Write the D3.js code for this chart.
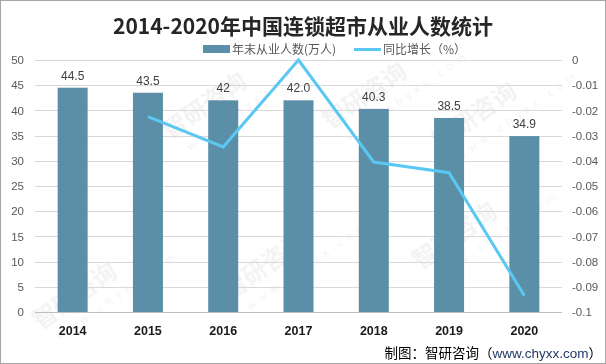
<!DOCTYPE html>
<html><head><meta charset="utf-8">
<script src="https://cdn.jsdelivr.net/npm/d3@7/dist/d3.min.js"></script>
<style>
html,body{margin:0;padding:0;background:#fff;}
svg{display:block;font-family:"Noto Sans CJK SC","Noto Sans",sans-serif;}
</style></head>
<body>
<svg id="chart" width="606" height="364"></svg>
<script>
const years = ["2014","2015","2016","2017","2018","2019","2020"];
const employees = [44.5, 43.5, 42, 42.0, 40.3, 38.5, 34.9];
const barLabels = ["44.5","43.5","42","42.0","40.3","38.5","34.9"];
const growthYears = ["2015","2016","2017","2018","2019","2020"];
const growth = [-0.0225, -0.0345, 0, -0.0405, -0.0447, -0.0935];
const leftTicks = [0,5,10,15,20,25,30,35,40,45,50];
const rightTicks = [0,-0.01,-0.02,-0.03,-0.04,-0.05,-0.06,-0.07,-0.08,-0.09,-0.1];

(function(){
const svg = d3.select("#chart");
const W = 606, H = 364;
const pL = 35, pR = 562, pT = 60, pB = 312;

svg.append("rect").attr("x",0.5).attr("y",0.5).attr("width",W-1).attr("height",H-1)
  .attr("fill","#fff").attr("stroke","#a6a6a6").attr("stroke-width",1);

const x = d3.scaleBand().domain(years).range([pL,pR]).padding(0);
const yL = d3.scaleLinear().domain([0,50]).range([pB,pT]);
const yR = d3.scaleLinear().domain([-0.1,0]).range([pB,pT]);

// faint watermarks
const wm = svg.append("g").attr("fill","#c8c8c8").attr("opacity",0.22);
[[40,330],[230,300],[420,270],[170,140],[330,130],[440,150]].forEach(([wx,wy])=>{
  const g = wm.append("g").attr("transform",`translate(${wx},${wy}) rotate(-35)`);
  g.append("text").attr("font-size",24).attr("font-weight","bold").text("智研咨询");
  g.append("text").attr("y",20).attr("x",10).attr("font-size",11).attr("letter-spacing",5).text("www.chyxx.com");
});

svg.append("g").selectAll("line").data(leftTicks).join("line")
  .attr("x1",pL).attr("x2",pR)
  .attr("y1",d=>Math.round(yL(d))+0.5).attr("y2",d=>Math.round(yL(d))+0.5)
  .attr("stroke",d=>d===0?"#bfbfbf":"#d9d9d9").attr("stroke-width",1);

const axL = d3.axisLeft(yL).tickValues(leftTicks).tickSize(0).tickPadding(0);
const gL = svg.append("g").attr("transform",`translate(24,0)`).call(axL);
gL.select(".domain").remove();
gL.selectAll("text").attr("fill","#595959").attr("font-size",11.5).attr("font-family","Liberation Sans, Noto Sans, sans-serif");

const axR = d3.axisRight(yR).tickValues(rightTicks).tickSize(0).tickPadding(0)
  .tickFormat(d=>d===0?"0":String(+d.toFixed(2)));
const gR = svg.append("g").attr("transform",`translate(572,0)`).call(axR);
gR.select(".domain").remove();
gR.selectAll("text").attr("fill","#595959").attr("font-size",11.5).attr("font-family","Liberation Sans, Noto Sans, sans-serif");

const bw = 30;
svg.append("g").selectAll("rect").data(years).join("rect")
  .attr("x",(d)=>x(d)+x.bandwidth()/2-bw/2)
  .attr("y",(d,i)=>yL(employees[i]))
  .attr("width",bw)
  .attr("height",(d,i)=>yL(0)-yL(employees[i]))
  .attr("fill","#5b8fa7");

svg.append("g").selectAll("text").data(years).join("text")
  .attr("x",d=>x(d)+x.bandwidth()/2)
  .attr("y",(d,i)=>yL(employees[i])-8)
  .attr("text-anchor","middle").attr("font-size",12).attr("fill","#404040")
  .attr("font-family","Liberation Sans, Noto Sans, sans-serif")
  .text((d,i)=>barLabels[i]);

const line = d3.line().x(d=>x(d[0])+x.bandwidth()/2).y(d=>yR(d[1]));
svg.append("path").datum(growthYears.map((y,i)=>[y,growth[i]]))
  .attr("d",line).attr("fill","none").attr("stroke","#5ac8f2").attr("stroke-width",3)
  .attr("stroke-linejoin","miter");

svg.append("g").selectAll("text").data(years).join("text")
  .attr("x",d=>x(d)+x.bandwidth()/2).attr("y",335)
  .attr("text-anchor","middle").attr("font-size",12.5).attr("font-weight","bold").attr("fill","#1a1a1a")
  .attr("font-family","Liberation Sans, Noto Sans, sans-serif")
  .text(d=>d);

svg.append("text").attr("x",303).attr("y",34).attr("text-anchor","middle")
  .attr("font-size",21).attr("font-weight","bold").attr("fill","#262626")
  .text("2014-2020年中国连锁超市从业人数统计");

svg.append("rect").attr("x",203).attr("y",45).attr("width",27).attr("height",8).attr("fill","#5b8fa7");
svg.append("text").attr("x",232).attr("y",54).attr("font-size",12).attr("fill","#595959").text("年末从业人数(万人)");
svg.append("line").attr("x1",354).attr("x2",381).attr("y1",49.5).attr("y2",49.5).attr("stroke","#5ac8f2").attr("stroke-width",3);
svg.append("text").attr("x",383).attr("y",54).attr("font-size",12).attr("fill","#595959").text("同比增长（%）");

const src = svg.append("text").attr("x",602).attr("y",358).attr("text-anchor","end").attr("font-size",13.5).attr("fill","#000");
src.append("tspan").text("制图：智研咨询（");
src.append("tspan").attr("fill","#1f3864").attr("font-family","Liberation Sans, sans-serif").text("www.chyxx.com");
src.append("tspan").text("）");
})();
</script>
</body></html>
